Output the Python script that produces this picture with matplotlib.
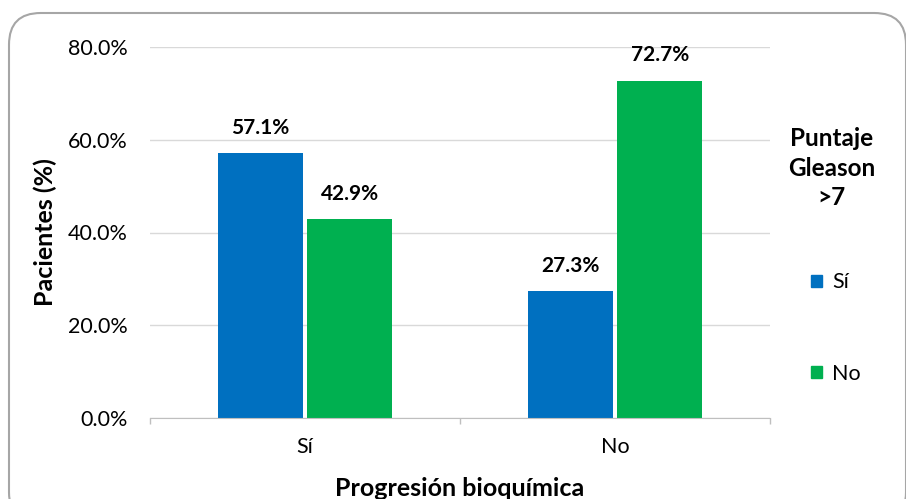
import matplotlib
matplotlib.use("Agg")
import matplotlib.pyplot as plt
from matplotlib.patches import FancyBboxPatch, Patch
from matplotlib.ticker import FuncFormatter, FixedLocator
import numpy as np

plt.rcParams['font.family'] = ['Lato', 'DejaVu Sans']

categories = ["Sí", "No"]
series_names = ["Sí", "No"]
values_si = [57.1, 27.3]
values_no = [42.9, 72.7]
colors = ["#0070C0", "#00B050"]

fig = plt.figure(figsize=(9.06, 4.99), dpi=100)
ax = fig.add_axes([150/906, 1 - 418/499, 620/906, 371/499])

x = np.arange(len(categories))
w = 0.272
gap = 0.008
b1 = ax.bar(x - w/2 - gap, values_si, w, color=colors[0], label=series_names[0])
b2 = ax.bar(x + w/2 + gap, values_no, w, color=colors[1], label=series_names[1])

for bars, vals in ((b1, values_si), (b2, values_no)):
    for r, v in zip(bars, vals):
        ax.annotate(f"{v:.1f}%", (r.get_x() + r.get_width()/2, v),
                    xytext=(0, 14), textcoords="offset points",
                    ha="center", va="baseline", fontsize=15, fontweight="bold")

ax.set_xlim(-0.5, 1.5)
ax.set_ylim(0, 80)
ax.set_yticks([0, 20, 40, 60, 80])
ax.yaxis.set_major_formatter(FuncFormatter(lambda v, p: f"{v:.1f}%"))
ax.set_xticks(x)
ax.set_xticklabels(categories)
ax.xaxis.set_minor_locator(FixedLocator([-0.5, 0.5, 1.5]))
ax.tick_params(axis="x", which="major", length=0, pad=14, labelsize=15.5)
ax.tick_params(axis="x", which="minor", length=4.5, color="#BFBFBF", width=1)
ax.tick_params(axis="y", length=0, pad=16, labelsize=15.5)

ax.grid(axis="y", color="#D9D9D9", linewidth=1)
ax.set_axisbelow(True)
for s in ("top", "right", "left"):
    ax.spines[s].set_visible(False)
ax.spines["bottom"].set_color("#BFBFBF")

ax.set_ylabel("Pacientes (%)", fontsize=18, fontweight="bold", labelpad=8)
ax.set_xlabel("Progresión bioquímica", fontsize=18, fontweight="bold", labelpad=14)

fig.text(832/906, 1 - 168/499, "Puntaje\nGleason\n>7", ha="center", va="center",
         fontsize=17.5, fontweight="bold", linespacing=1.35)
handles = [Patch(color=c) for c in colors]
fig.legend(handles, series_names, loc="center", bbox_to_anchor=(836/906, 1 - 328/499),
           frameon=False, fontsize=15.5, labelspacing=3.3, handlelength=0.5,
           handleheight=0.5, handletextpad=0.5)

border = FancyBboxPatch((9/906, -0.05), 1.0 - 9/906, 1 - 13/499 + 0.05,
                        boxstyle="round,pad=0,rounding_size=0.035",
                        transform=fig.transFigure, facecolor="none",
                        edgecolor="#A6A6A6", linewidth=1.5, clip_on=False,
                        mutation_aspect=906/499)
fig.patches.append(border)

fig.savefig("out.png", dpi=100)
